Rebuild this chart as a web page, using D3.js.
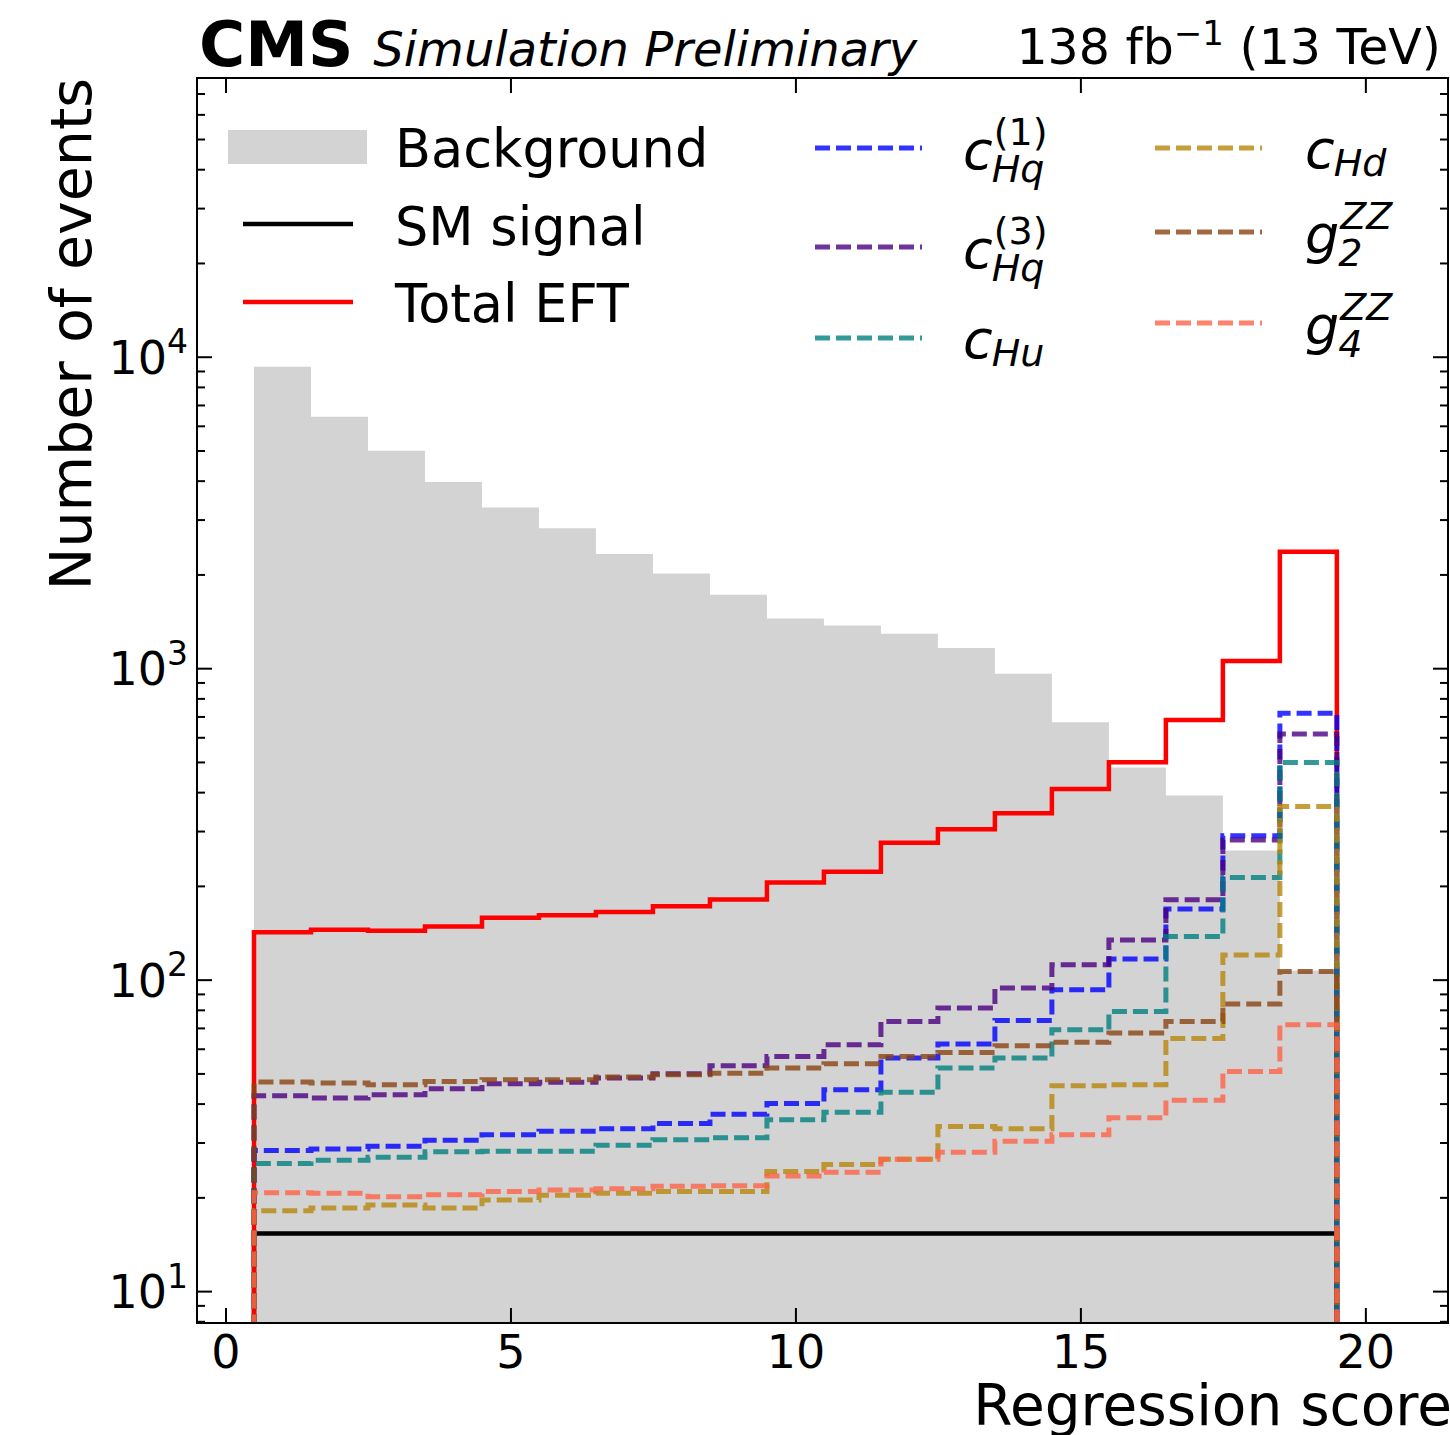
<!DOCTYPE html>
<html>
<head>
<meta charset="utf-8">
<script src="https://cdn.jsdelivr.net/npm/d3@7"></script>
<style>
  html, body { margin: 0; padding: 0; background: #ffffff; }
  svg { display: block; font-family: "DejaVu Sans", sans-serif; }
</style>
</head>
<body>
<svg id="chart" width="1450" height="1435"></svg>
<script>
// Regression score histogram: 19 unit-width bins centred on 1..19
const binCenters = [1, 2, 3, 4, 5, 6, 7, 8, 9, 10, 11, 12, 13, 14, 15, 16, 17, 18, 19];

const background = [9290, 6420, 4990, 3960, 3280, 2815, 2325, 2015, 1720, 1445,
                    1370, 1290, 1160, 960, 670, 480, 390, 260, 107];
const smSignal   = [15.3, 15.3, 15.3, 15.3, 15.3, 15.3, 15.3, 15.3, 15.3, 15.3,
                    15.3, 15.3, 15.3, 15.3, 15.3, 15.3, 15.3, 15.3, 15.3];
const totalEFT   = [142, 144.5, 143.5, 148, 158, 161, 165, 172, 181, 205,
                    222, 275, 304, 342, 409, 499, 682, 1055, 2365];
const cHq1       = [28.3, 28.6, 29.2, 30.5, 31.8, 32.6, 33.2, 34.5, 37.0, 40.0,
                    44.3, 56.0, 62.1, 74.0, 92.8, 116.4, 168.5, 289.5, 717];
const cHq3       = [42.4, 41.7, 42.7, 44.6, 46.3, 46.8, 48.3, 49.9, 52.9, 56.7,
                    61.8, 73.4, 81.1, 94.0, 111.6, 134, 180.5, 281, 615];
const cHu        = [25.7, 26.3, 26.9, 28.0, 28.1, 28.1, 29.4, 30.6, 31.1, 35.5,
                    37.5, 43.5, 52.0, 56.0, 69.0, 79.0, 137.6, 212.8, 498];
const cHd        = [18.1, 18.5, 18.9, 18.5, 19.6, 20.3, 20.6, 20.9, 20.9, 24.2,
                    25.5, 26.5, 33.8, 33.2, 45.6, 46.0, 64.7, 120.1, 360];
const g2ZZ       = [46.9, 46.6, 46.0, 47.1, 47.7, 47.7, 48.7, 49.5, 50.1, 52.0,
                    53.7, 56.7, 58.4, 61.4, 62.9, 67.4, 73.4, 83.5, 106.2];
const g4ZZ       = [20.7, 20.6, 20.1, 20.4, 20.9, 21.1, 21.3, 21.7, 21.8, 23.4,
                    24.1, 26.5, 27.9, 30.3, 31.8, 36.0, 41.0, 50.7, 71.6];

const xTickValues = [0, 5, 10, 15, 20];
const yTickExponents = [1, 2, 3, 4];

const svg = d3.select("#chart");
const plot = { left: 197, right: 1448, top: 78, bottom: 1323 };

const x = d3.scaleLinear().domain([-0.5, 21.45]).range([plot.left, plot.right]);
const y = d3.scaleLog().domain([7.9, 78500]).range([plot.bottom, plot.top]);

svg.append("defs").append("clipPath").attr("id", "plotClip")
  .append("rect")
  .attr("x", plot.left).attr("y", plot.top)
  .attr("width", plot.right - plot.left).attr("height", plot.bottom - plot.top);

const body = svg.append("g").attr("clip-path", "url(#plotClip)");

// Build the outline of a histogram: rises from below the axis at the first
// edge, follows each bin content, falls back below the axis at the last edge.
const FLOOR = 1;
function stepPoints(values) {
  const pts = [[binCenters[0] - 0.5, FLOOR]];
  values.forEach((v, i) => {
    pts.push([binCenters[i] - 0.5, v]);
    pts.push([binCenters[i] + 0.5, v]);
  });
  pts.push([binCenters[binCenters.length - 1] + 0.5, FLOOR]);
  return pts;
}

const line = d3.line().x(d => x(d[0])).y(d => y(d[1]));
const area = d3.area().x(d => x(d[0])).y0(y(FLOOR)).y1(d => y(d[1]));

// Background: filled histogram
body.append("path")
  .attr("d", area(stepPoints(background)))
  .attr("fill", "#d3d3d3");

// SM signal and total EFT: solid outlines
body.append("path")
  .attr("d", line(stepPoints(smSignal)))
  .attr("fill", "none").attr("stroke", "#000000")
  .attr("stroke-width", 4.5).attr("stroke-linejoin", "miter");

body.append("path")
  .attr("d", line(stepPoints(totalEFT)))
  .attr("fill", "none").attr("stroke", "#ff0000")
  .attr("stroke-width", 4.5).attr("stroke-linejoin", "miter");

// Individual operator contributions: dashed outlines
const DASH = "15,6";
const DASH_WIDTH = 5;
const operators = [
  { values: cHq1, color: "#0000ff" },
  { values: cHq3, color: "#4b0082" },
  { values: cHu,  color: "#008080" },
  { values: cHd,  color: "#b8860b" },
  { values: g2ZZ, color: "#8b4513" },
  { values: g4ZZ, color: "#ff6347" }
];
operators.forEach(op => {
  body.append("path")
    .attr("d", line(stepPoints(op.values)))
    .attr("fill", "none").attr("stroke", op.color)
    .attr("stroke-opacity", 0.8)
    .attr("stroke-width", DASH_WIDTH)
    .attr("stroke-dasharray", DASH)
    .attr("stroke-linejoin", "miter");
});

// ---- Axes (ticks point inward on all four sides) ----
const yMajor = yTickExponents.map(e => Math.pow(10, e));
const yMinor = [];
for (let e = 0; e <= 4; e++) {
  for (let m = 2; m <= 9; m++) {
    const v = m * Math.pow(10, e);
    if (v > y.domain()[0] && v < y.domain()[1]) yMinor.push(v);
  }
}

function styleAxis(g) {
  g.select(".domain").remove();
  g.selectAll(".tick line").attr("stroke", "#000").attr("stroke-width", 2);
  g.selectAll("text").attr("fill", "#000").attr("font-family", "DejaVu Sans");
}

// bottom
svg.append("g")
  .attr("transform", `translate(0,${plot.bottom})`)
  .call(d3.axisBottom(x).tickValues(xTickValues).tickSizeInner(-15).tickSizeOuter(0).tickPadding(12))
  .call(styleAxis)
  .call(g => g.selectAll("text").attr("font-size", 46).attr("dy", "0.72em"));

// top
svg.append("g")
  .attr("transform", `translate(0,${plot.top})`)
  .call(d3.axisTop(x).tickValues(xTickValues).tickSizeInner(-15).tickSizeOuter(0).tickFormat(""))
  .call(styleAxis);

// left, major with power-of-ten labels
svg.append("g")
  .attr("transform", `translate(${plot.left},0)`)
  .call(d3.axisLeft(y).tickValues(yMajor).tickSizeInner(-15).tickSizeOuter(0).tickPadding(9)
    .tickFormat(d => ""))
  .call(styleAxis)
  .call(g => g.selectAll(".tick text").each(function(d) {
    const t = d3.select(this);
    t.attr("font-size", 46).attr("dy", "0.36em").attr("x", -9);
    t.append("tspan").text("10");
    t.append("tspan").attr("font-size", 33).attr("dy", "-0.62em")
      .text(String(Math.round(Math.log10(d))));
  }));

svg.append("g")
  .attr("transform", `translate(${plot.left},0)`)
  .call(d3.axisLeft(y).tickValues(yMinor).tickSizeInner(-8).tickSizeOuter(0).tickFormat(""))
  .call(styleAxis);

// right
svg.append("g")
  .attr("transform", `translate(${plot.right},0)`)
  .call(d3.axisRight(y).tickValues(yMajor).tickSizeInner(-15).tickSizeOuter(0).tickFormat(""))
  .call(styleAxis);
svg.append("g")
  .attr("transform", `translate(${plot.right},0)`)
  .call(d3.axisRight(y).tickValues(yMinor).tickSizeInner(-8).tickSizeOuter(0).tickFormat(""))
  .call(styleAxis);

// frame
svg.append("rect")
  .attr("x", plot.left).attr("y", plot.top)
  .attr("width", plot.right - plot.left).attr("height", plot.bottom - plot.top)
  .attr("fill", "none").attr("stroke", "#000").attr("stroke-width", 2);

// axis titles
svg.append("text")
  .attr("x", 1452).attr("y", 1425)
  .attr("text-anchor", "end").attr("font-size", 56.5)
  .text("Regression score");

svg.append("text")
  .attr("transform", `translate(91,${plot.top}) rotate(-90)`)
  .attr("text-anchor", "end").attr("font-size", 57)
  .text("Number of events");

// header
const head = svg.append("text").attr("x", 199).attr("y", 66);
head.append("tspan").attr("font-weight", "bold").attr("font-size", 63).text("CMS");
head.append("tspan").attr("font-style", "italic").attr("font-size", 48).attr("dx", 20)
  .text("Simulation Preliminary");

const lumi = svg.append("text").attr("x", 1441).attr("y", 64)
  .attr("text-anchor", "end").attr("font-size", 49);
lumi.append("tspan").text("138 fb");
lumi.append("tspan").attr("font-size", 34).attr("dy", -19).text("\u22121");
lumi.append("tspan").attr("dy", 19).text(" (13 TeV)");

// ---- Legend ----
const leg = svg.append("g");
const LEG_FONT = 52.5;

leg.append("rect").attr("x", 228).attr("y", 130).attr("width", 139).attr("height", 34)
  .attr("fill", "#d3d3d3");
leg.append("text").attr("x", 395).attr("y", 167).attr("font-size", LEG_FONT).text("Background");

leg.append("line").attr("x1", 243).attr("x2", 353).attr("y1", 224).attr("y2", 224)
  .attr("stroke", "#000").attr("stroke-width", 4.5);
leg.append("text").attr("x", 395).attr("y", 245).attr("font-size", LEG_FONT).text("SM signal");

leg.append("line").attr("x1", 243).attr("x2", 353).attr("y1", 302).attr("y2", 302)
  .attr("stroke", "#ff0000").attr("stroke-width", 4.5);
leg.append("text").attr("x", 395).attr("y", 322).attr("font-size", LEG_FONT).text("Total EFT");

// symbol with optional subscript / superscript stacked to its right
function mathLabel(xPos, lineY, base, sub, sup) {
  const g = leg.append("g");
  const both = sub && sup;
  const baseY = lineY + (both ? 21 : 20);
  const b = g.append("text").attr("x", xPos).attr("y", baseY)
    .attr("font-size", 54).attr("font-style", "italic").text(base);
  const w = b.node().getComputedTextLength();
  if (sub) {
    g.append("text").attr("x", xPos + w - 1).attr("y", lineY + (both ? 34 : 28))
      .attr("font-size", 38).attr("font-style", "italic").text(sub);
  }
  if (sup) {
    g.append("text").attr("x", xPos + w + 1).attr("y", lineY - 3)
      .attr("font-size", 38).attr("font-style", sup.startsWith("(") ? "normal" : "italic")
      .text(sup);
  }
}

const legendEntries = [
  { color: "#0000ff", x: 815, y: 148, lx: 963,  base: "c", sub: "Hq", sup: "(1)" },
  { color: "#4b0082", x: 815, y: 247, lx: 963,  base: "c", sub: "Hq", sup: "(3)" },
  { color: "#008080", x: 815, y: 338, lx: 963,  base: "c", sub: "Hu", sup: null },
  { color: "#b8860b", x: 1155, y: 148, lx: 1305, base: "c", sub: "Hd", sup: null },
  { color: "#8b4513", x: 1155, y: 232, lx: 1305, base: "g", sub: "2", sup: "ZZ" },
  { color: "#ff6347", x: 1155, y: 323, lx: 1305, base: "g", sub: "4", sup: "ZZ" }
];
legendEntries.forEach(e => {
  leg.append("line").attr("x1", e.x).attr("x2", e.x + 107).attr("y1", e.y).attr("y2", e.y)
    .attr("stroke", e.color).attr("stroke-opacity", 0.8)
    .attr("stroke-width", DASH_WIDTH).attr("stroke-dasharray", DASH);
  mathLabel(e.lx, e.y, e.base, e.sub, e.sup);
});
</script>
</body>
</html>
